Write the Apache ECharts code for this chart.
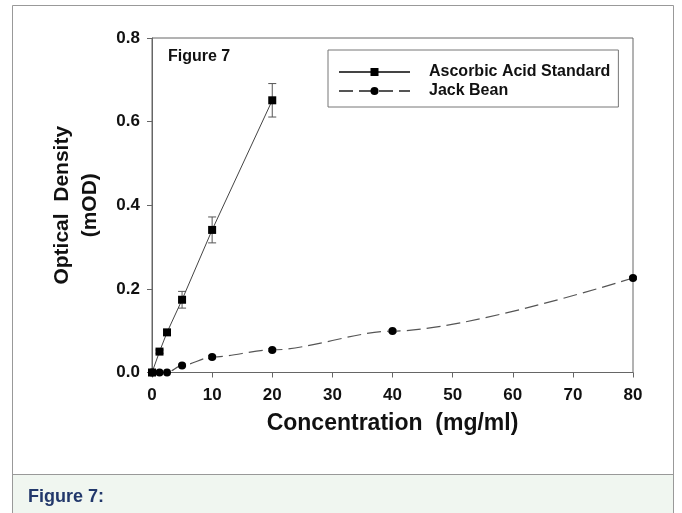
<!DOCTYPE html>
<html><head><meta charset="utf-8">
<script src="https://cdn.jsdelivr.net/npm/echarts@6/dist/echarts.min.js"></script>
<style>html,body{margin:0;padding:0;background:#fff}#c{width:682px;height:513px}</style>
</head><body><div id="c"></div><script>
// Data
const ascX = [0, 1.25, 2.5, 5, 10, 20];
const ascY = [0, 0.05, 0.096, 0.174, 0.341, 0.651];
const ascErr = [0.002, 0.004, 0.006, 0.02, 0.031, 0.04];
const jbX = [0, 1.25, 2.5, 5, 10, 20, 40, 80];
const jbY = [0, 0, 0, 0.017, 0.037, 0.054, 0.099, 0.226];
const jbErr = [0, 0, 0, 0.003, 0.004, 0.003, 0.003, 0.003];
const seriesNames = ['Ascorbic Acid Standard', 'Jack Bean'];
const xTicks = { min: 0, max: 80, interval: 10 };
const yTicks = { min: 0, max: 0.8, interval: 0.2 };

const FONT = 'Liberation Sans, Arial, sans-serif';
const chart = echarts.init(document.getElementById('c'), null, { renderer: 'canvas' });

function errBars(xs, ys, es) {
  return xs.map((x, i) => [x, ys[i] - es[i], ys[i] + es[i]]);
}
function renderErr(params, api) {
  const x = api.value(0), lo = api.value(1), hi = api.value(2);
  const p1 = api.coord([x, hi]), p2 = api.coord([x, lo]);
  const w = 4;
  const st = { stroke: '#555', lineWidth: 1 };
  return { type: 'group', children: [
    { type: 'line', shape: { x1: p1[0], y1: p1[1], x2: p2[0], y2: p2[1] }, style: st },
    { type: 'line', shape: { x1: p1[0] - w, y1: p1[1], x2: p1[0] + w, y2: p1[1] }, style: st },
    { type: 'line', shape: { x1: p2[0] - w, y1: p2[1], x2: p2[0] + w, y2: p2[1] }, style: st }
  ]};
}

const option = {
  backgroundColor: '#fff',
  animation: false,
  graphic: [
    { type: 'rect', z: -10, shape: { x: 12.5, y: 5.5, width: 661, height: 530 }, style: { fill: '#fff', stroke: '#999', lineWidth: 1 } },
    { type: 'rect', z: -9, shape: { x: 13, y: 474, width: 660, height: 40 }, style: { fill: '#f0f6f0' } },
    { type: 'line', z: -8, shape: { x1: 13, y1: 474.5, x2: 673, y2: 474.5 }, style: { stroke: '#999', lineWidth: 1 } },
    { type: 'text', x: 28, y: 497, style: { text: 'Figure 7:', font: 'bold 18px ' + FONT, fill: '#22386b', verticalAlign: 'middle' } },
    { type: 'text', x: 168, y: 57, style: { text: 'Figure 7', font: 'bold 16px ' + FONT, fill: '#111', verticalAlign: 'middle' } }
  ],
  grid: { left: 152, right: 49, top: 38, bottom: 140.5, show: true, borderColor: '#666', borderWidth: 1, backgroundColor: 'transparent' },
  legend: {
    data: seriesNames, orient: 'vertical', left: 328, top: 50,
    itemWidth: 71, itemHeight: 10, itemGap: 3, padding: [14, 8, 8, 10],
    borderColor: '#777', borderWidth: 1, align: 'left',
    textStyle: { fontFamily: FONT, fontWeight: 'bold', fontSize: 16, color: '#111', padding: [0, 0, 0, 14] }
  },
  xAxis: {
    type: 'value', min: xTicks.min, max: xTicks.max, interval: xTicks.interval,
    name: 'Concentration  (mg/ml)', nameLocation: 'middle', nameGap: 40,
    nameTextStyle: { fontFamily: FONT, fontWeight: 'bold', fontSize: 23, color: '#111' },
    axisLine: { show: true, lineStyle: { color: '#666', width: 1 } },
    axisTick: { show: true, inside: false, length: 5, lineStyle: { color: '#666' } },
    axisLabel: { margin: 14, fontFamily: FONT, fontWeight: 'bold', fontSize: 17, color: '#111' },
    splitLine: { show: false }
  },
  yAxis: {
    type: 'value', min: yTicks.min, max: yTicks.max, interval: yTicks.interval,
    name: 'Optical  Density\n(mOD)', nameLocation: 'middle', nameGap: 48, nameRotate: 90,
    nameTextStyle: { fontFamily: FONT, fontWeight: 'bold', fontSize: 21, lineHeight: 28, color: '#111', align: 'center' },
    axisLine: { show: true, lineStyle: { color: '#666', width: 1 } },
    axisTick: { show: true, inside: false, length: 5, lineStyle: { color: '#666' } },
    axisLabel: { margin: 12, fontFamily: FONT, fontWeight: 'bold', fontSize: 17, color: '#111', formatter: v => v.toFixed(1) },
    splitLine: { show: false }
  },
  series: [
    { type: 'custom', name: 'errA', renderItem: renderErr, data: errBars(ascX, ascY, ascErr), z: 1, silent: true },
    { type: 'custom', name: 'errJ', renderItem: renderErr, data: errBars(jbX, jbY, jbErr), z: 1, silent: true },
    {
      type: 'line', name: seriesNames[0], data: ascX.map((x, i) => [x, ascY[i]]),
      symbol: 'rect', symbolSize: 8, showAllSymbol: true,
      lineStyle: { color: '#444', width: 1 }, itemStyle: { color: '#000' }, z: 3
    },
    {
      type: 'line', name: seriesNames[1], data: jbX.map((x, i) => [x, jbY[i]]),
      symbol: 'circle', symbolSize: 8, showAllSymbol: true, smooth: 0.3, smoothMonotone: 'x',
      lineStyle: { color: '#555', width: 1.2, type: [14, 6] }, itemStyle: { color: '#000' }, z: 3
    }
  ]
};
chart.setOption(option);
</script></body></html>
